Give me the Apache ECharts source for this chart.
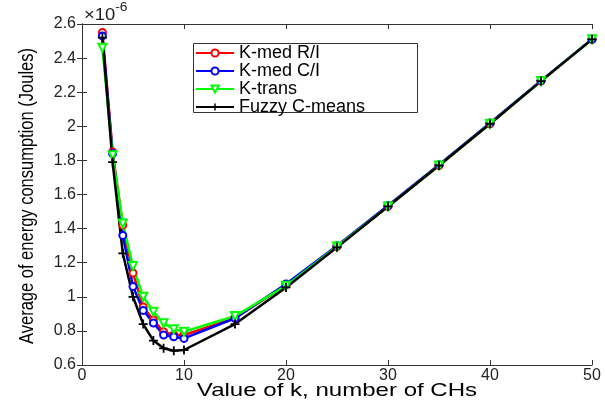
<!DOCTYPE html>
<html><head><meta charset="utf-8">
<script src="https://cdn.jsdelivr.net/npm/echarts@6/dist/echarts.min.js"></script>
<style>html,body{margin:0;padding:0;background:#fff}#c{width:605px;height:407px}</style>
</head><body><div id="c"></div>
<script>
const kValues = [2,3,4,5,6,7,8,9,10,15,20,25,30,35,40,45,50];
const kmedRI = [2.55,1.85,1.42,1.14,0.94,0.864,0.795,0.776,0.776,0.874,1.07,1.295,1.53,1.77,2.015,2.265,2.51];
const kmedCI = [2.53,1.84,1.36,1.06,0.92,0.846,0.776,0.766,0.756,0.874,1.075,1.30,1.535,1.775,2.02,2.268,2.51];
const ktrans = [2.46,1.83,1.43,1.18,1.0,0.913,0.845,0.81,0.795,0.887,1.065,1.295,1.53,1.77,2.015,2.265,2.51];
const fuzzy  = [2.52,1.79,1.255,1.0,0.84,0.743,0.698,0.684,0.688,0.84,1.055,1.29,1.53,1.77,2.015,2.265,2.51];
const seriesNames = ['K-med R/I','K-med C/I','K-trans','Fuzzy C-means'];
const xTitle = 'Value of k, number of CHs';
const yTitle = 'Average of energy consumption (Joules)';

const pair = arr => kValues.map((k,i)=>[k,arr[i]]);
const font = 'Liberation Sans, Arial, sans-serif';
const chart = echarts.init(document.getElementById('c'), null, {renderer:'canvas'});
const plus = 'path://M4,0h2v4h4v2h-4v4h-2v-4h-4v-2h4z';
const axisCommon = {
  axisLine:{show:true,lineStyle:{color:'#333',width:1}},
  axisTick:{show:true,inside:true,length:5,lineStyle:{color:'#333'}},
  splitLine:{show:false}
};
chart.setOption({
  animation:false,
  backgroundColor:'#fff',
  textStyle:{fontFamily:font},
  grid:{left:82,right:13,top:24,bottom:42,containLabel:false},
  legend:{
    data:seriesNames, orient:'vertical', left:195, top:44,
    itemWidth:38, itemHeight:9, itemGap:0, padding:0,
    textStyle:{fontSize:18,lineHeight:17,color:'#000',fontFamily:font}
  },
  xAxis:[
    Object.assign({type:'value',min:0,max:50,interval:10,position:'bottom',
      axisLabel:{fontSize:16,color:'#222',margin:3,fontFamily:font}},axisCommon),
    Object.assign({type:'value',min:0,max:50,interval:10,position:'top',axisLabel:{show:false}},axisCommon)
  ],
  yAxis:[
    Object.assign({type:'value',min:0.6,max:2.6,interval:0.2,position:'left',
      axisLabel:{fontSize:16,color:'#222',margin:6,fontFamily:font,
        formatter:v=>String(Math.round(v*10)/10)}},axisCommon),
    Object.assign({type:'value',min:0.6,max:2.6,interval:0.2,position:'right',axisLabel:{show:false}},axisCommon)
  ],
  graphic:[{
    type:'rect', left:193, top:43, z:0,
    shape:{width:224,height:69},
    style:{fill:'#fff',stroke:'#333',lineWidth:1}
  },{
    type:'text', x:84, y:2, scaleX:1.15,
    style:{text:'{a|×10}{b|-6}', rich:{
      a:{fontSize:16,fontFamily:font,fill:'#222',padding:[6,0,0,0]},
      b:{fontSize:12,fontFamily:font,fill:'#222',verticalAlign:'top'}}}
  },{
    type:'text', x:337, y:391, scaleX:1.3,
    style:{text:xTitle, fontSize:18.5, fontFamily:font, fill:'#000', align:'center', verticalAlign:'middle'}
  },{
    type:'text', x:28, y:196, rotation:Math.PI/2, scaleY:1.2,
    style:{text:yTitle, fontSize:16.5, fontFamily:font, fill:'#000', align:'center', verticalAlign:'middle'}
  }],
  series:[
    {name:seriesNames[0],type:'line',data:pair(kmedRI),symbol:'emptyCircle',symbolSize:7,
      lineStyle:{color:'#ff0000',width:2.5},itemStyle:{color:'#ff0000',borderWidth:2}},
    {name:seriesNames[1],type:'line',data:pair(kmedCI),symbol:'emptyCircle',symbolSize:7,
      lineStyle:{color:'#0000ff',width:2.5},itemStyle:{color:'#0000ff',borderWidth:2}},
    {name:seriesNames[2],type:'line',data:pair(ktrans),symbol:'emptyTriangle',symbolRotate:180,symbolSize:8,
      lineStyle:{color:'#00ff00',width:2.5},itemStyle:{color:'#00ff00',borderWidth:2}},
    {name:seriesNames[3],type:'line',data:pair(fuzzy),symbol:plus,symbolSize:9,
      lineStyle:{color:'#000',width:2.5},itemStyle:{color:'#000'}}
  ]
});
</script></body></html>
